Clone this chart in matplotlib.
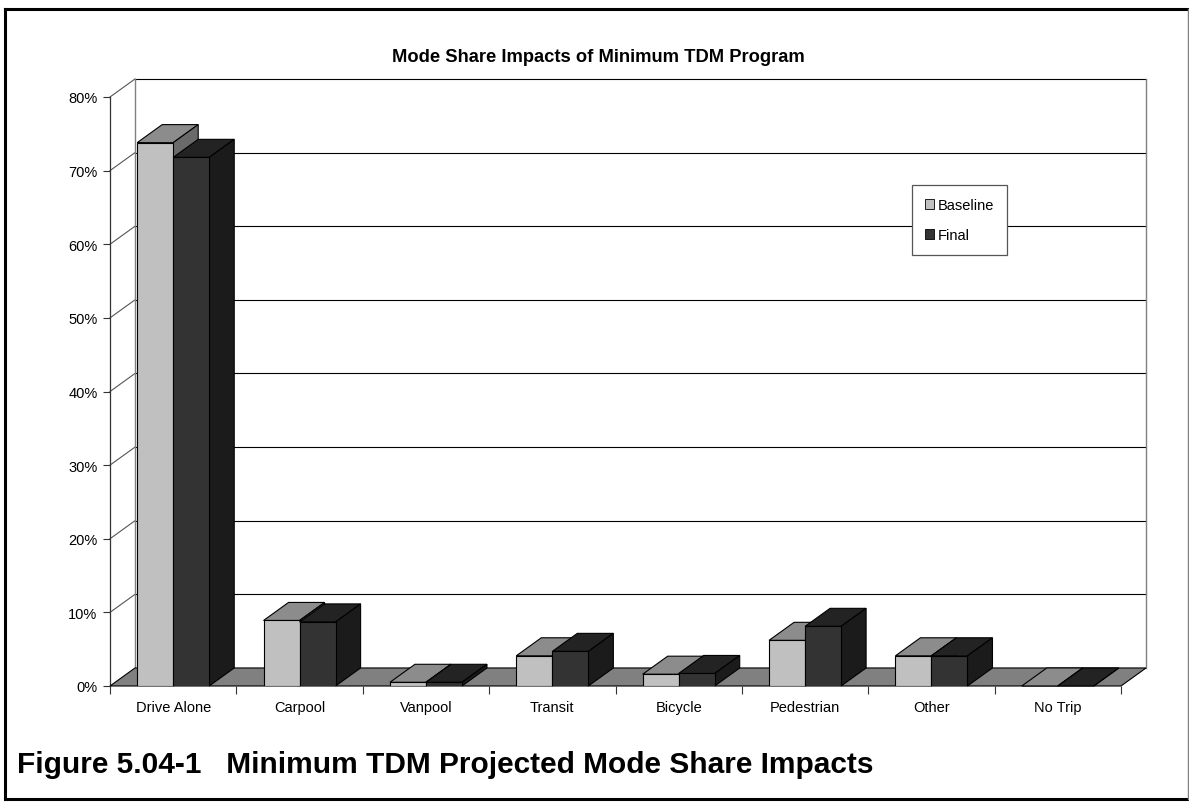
import numpy as np
import matplotlib; matplotlib.use("Agg")
import matplotlib.pyplot as plt
import matplotlib.patches as mpatches
from matplotlib.ticker import FuncFormatter

plt.rcParams["font.family"] = ["Liberation Sans", "DejaVu Sans"]

# ── data ─────────────────────────────────────────────────────────────────────
categories = ["Drive Alone", "Carpool", "Vanpool", "Transit",
              "Bicycle", "Pedestrian", "Other", "No Trip"]
baseline = [73.8, 8.9, 0.5, 4.1, 1.6, 6.2, 4.1, 0.0]
final    = [71.8, 8.7, 0.5, 4.7, 1.7, 8.1, 4.1, 0.0]
yticks   = list(range(0, 81, 10))
title    = "Mode Share Impacts of Minimum TDM Program"
caption  = "Figure 5.04-1   Minimum TDM Projected Mode Share Impacts"

# colours (front, top, side)
BASE_C  = ("#c0c0c0", "#8c8c8c", "#6a6a6a")
FINAL_C = ("#333333", "#232323", "#1b1b1b")
FLOOR_C = "#808080"

W, H = 1189, 803
fig = plt.figure(figsize=(W / 100, H / 100), dpi=100, facecolor="white")
ax = fig.add_axes([110 / W, 1 - 687 / H, (1121 - 110) / W, (687 - 98) / H])
ax.set_xlim(0, len(categories))
ax.set_ylim(0, 80)
for s in ax.spines.values():
    s.set_visible(False)
ax.patch.set_alpha(0)

# depth offset of the pseudo-3d box, in data units
dx, dy = 0.198, 2.45
n = len(categories)

# floor
ax.add_patch(mpatches.Polygon([(0, 0), (n, 0), (n + dx, dy), (dx, dy)],
                              closed=True, facecolor=FLOOR_C, edgecolor="black",
                              linewidth=0.8, zorder=1, clip_on=False))
# back wall grid + side wall diagonals
for v in yticks[1:]:
    ax.plot([dx, n + dx], [v + dy, v + dy], color="black", lw=0.8,
            zorder=0.5, clip_on=False)
    ax.plot([0, dx], [v, v + dy], color="#555555", lw=0.8,
            zorder=0.5, clip_on=False)
ax.plot([dx, dx], [dy, 80 + dy], color="#808080", lw=1.0, zorder=0.5, clip_on=False)
ax.plot([n + dx, n + dx], [dy, 80 + dy], color="#808080", lw=1.0, zorder=0.5,
        clip_on=False)
ax.plot([0, 0], [0, 80], color="#333333", lw=0.9, zorder=0.6, clip_on=False)

# bars: front faces via ax.bar, top/side faces derived from each rectangle
x = np.arange(n) + 0.5
bw = 0.285
bars_b = ax.bar(x - bw / 2, baseline, bw, color=BASE_C[0], edgecolor="black",
                linewidth=0.8, zorder=3)
bars_f = ax.bar(x + bw / 2, final, bw, color=FINAL_C[0], edgecolor="black",
                linewidth=0.8, zorder=5)

def add_faces(rect, cols, z):
    x0, w, h = rect.get_x(), rect.get_width(), rect.get_height()
    x1 = x0 + w
    ax.add_patch(mpatches.Polygon([(x0, h), (x0 + dx, h + dy), (x1 + dx, h + dy), (x1, h)],
                                  closed=True, facecolor=cols[1], edgecolor="black",
                                  linewidth=0.8, zorder=z, clip_on=False))
    ax.add_patch(mpatches.Polygon([(x1, 0), (x1 + dx, dy), (x1 + dx, h + dy), (x1, h)],
                                  closed=True, facecolor=cols[2], edgecolor="black",
                                  linewidth=0.8, zorder=z, clip_on=False))

for r in bars_b:
    add_faces(r, BASE_C, 2.9)
for r in bars_f:
    add_faces(r, FINAL_C, 4.9)

# axes ticks
ax.set_yticks(yticks)
ax.yaxis.set_major_formatter(FuncFormatter(lambda v, p: f"{v:.0f}%"))
ax.tick_params(axis="y", length=5, width=0.8, direction="out", pad=4,
               labelsize=10.5, color="#333333")
ax.set_xticks(range(n + 1))
ax.set_xticklabels([])
ax.set_xticks(x, minor=True)
ax.set_xticklabels(categories, minor=True)
ax.tick_params(axis="x", which="major", length=6, width=0.8, color="#333333")
ax.tick_params(axis="x", which="minor", length=0, pad=10, labelsize=10.5)

# legend
handles = [mpatches.Patch(facecolor=BASE_C[0], edgecolor="black", linewidth=0.6, label="Baseline"),
           mpatches.Patch(facecolor=FINAL_C[0], edgecolor="black", linewidth=0.6, label="Final")]
leg = fig.legend(handles=handles, loc="upper left",
                 bbox_to_anchor=(912 / W, 1 - 186 / H), fontsize=10.5,
                 handlelength=0.6, handleheight=0.6, handletextpad=0.25,
                 labelspacing=1.1, borderpad=0.9, borderaxespad=0,
                 fancybox=False, framealpha=1, edgecolor="#555555")
leg.get_frame().set_linewidth(0.9)

fig.text(598 / W, 1 - 58 / H, title, ha="center", va="center",
         fontsize=13.2, fontweight="bold")
fig.text(17 / W, 1 - 765 / H, caption, ha="left", va="center",
         fontsize=21.5, fontweight="bold")

# outer border
def fline(xs, ys, **kw):
    fig.add_artist(plt.Line2D([v / W for v in xs], [1 - v / H for v in ys],
                              transform=fig.transFigure, **kw))

fline([5, 1188], [10, 10], color="black", lw=2.2)
fline([5, 5], [10, 800], color="black", lw=2.2)
fline([5, 1188], [800, 800], color="black", lw=2.2)
fline([1187.5, 1187.5], [10, 800], color="#808080", lw=1.0)

fig.savefig("out.png", dpi=100, facecolor="white")
